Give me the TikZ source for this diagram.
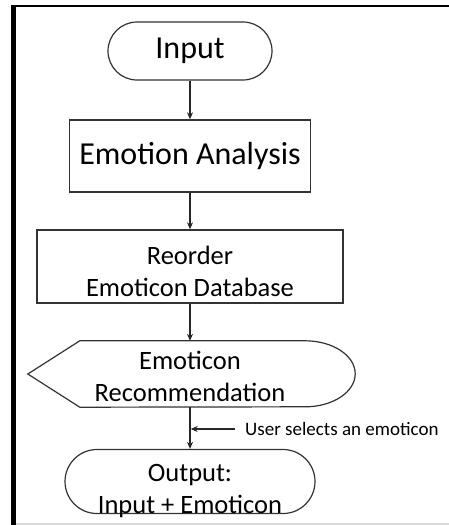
\documentclass[tikz,border=0pt]{standalone}
\usepackage{fontspec}
\setmainfont{Carlito}
\usetikzlibrary{shapes.misc, arrows.meta}

\begin{document}
\begin{tikzpicture}
    [x=1pt, y=1pt,
    term/.style={rounded rectangle, draw=black!80, line width=1.2pt, align=center, inner sep=0pt},
    box/.style={rectangle, draw=black!80, line width=1.4pt, align=center, inner sep=0pt},
    flow/.style={-{Stealth[length=7pt, width=6pt]}, line width=1.4pt, black!85},
    big/.style={font=\fontsize{32}{38}\selectfont},
    small/.style={font=\fontsize{26.5}{32}\selectfont}]

    \useasboundingbox (0,0) rectangle (449,-525);

    % frame round the chart
    \draw[line width=1.2pt] (11,-6) -- (449,-6);
    \draw[line width=4.5pt] (13.5,-5) -- (13.5,-525);
    \draw[black!15, line width=2pt] (16,-524) -- (449,-524);

    \node[term, big, minimum width=164pt, minimum height=58pt] (input) at (190,-51) {Input};
    \node[box, big, minimum width=241pt, minimum height=72pt] (analysis) at (190,-156) {Emotion Analysis};
    \node[box, small, minimum width=306pt, minimum height=73pt] (reorder) at (190,-266.5) {\rule{0pt}{28pt}Reorder\\Emoticon Database};
    \node[small, minimum width=230pt, minimum height=66pt, inner sep=0pt, align=center] (rec) at (190,-374) {\rule{0pt}{24pt}Emoticon\\Recommendation};
    \node[term, small, minimum width=250pt, minimum height=61pt, text depth=0pt] (output) at (190,-481.5) {\rule{0pt}{32pt}Output:\\Input + Emoticon};
    \node[font=\fontsize{19}{22}\selectfont, anchor=west, inner sep=0pt] (user) at (245,-429) {User selects an emoticon};

    % display shape round the recommendation
    \draw[black!80, line width=1.2pt] ([xshift=-47pt]rec.west) -- ([xshift=5pt]rec.north west) -- (rec.north east)
        arc[start angle=90, end angle=-90, x radius=50pt, y radius=33pt] -- ([xshift=5pt]rec.south west) -- cycle;

    \draw[flow] (input.south) -- (analysis.north);
    \draw[flow] (analysis.south) -- (reorder.north);
    \draw[flow] (reorder.south) -- (rec.north);
    \draw[flow] (rec.south) -- (output.north);
    \draw[flow, shorten <=10pt, shorten >=0.7pt] (user.west) -- (user.west -| rec.south);
\end{tikzpicture}
\end{document}
